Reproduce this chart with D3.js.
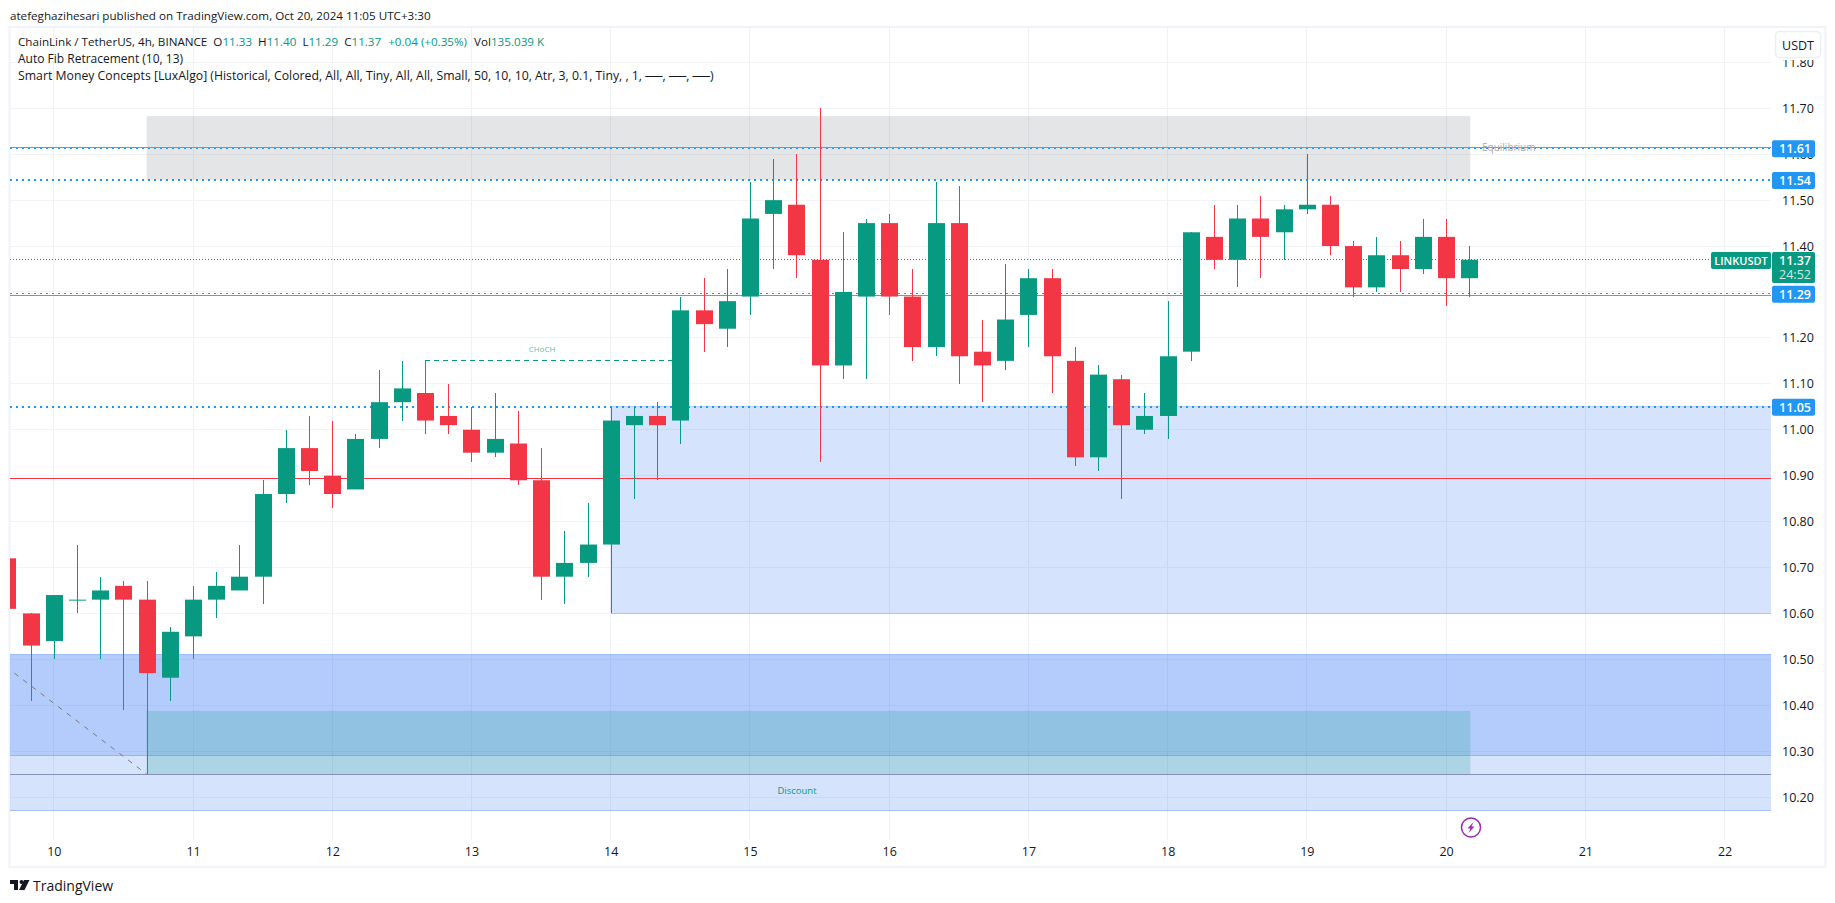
<!DOCTYPE html>
<html>
<head>
<meta charset="utf-8">
<script src="https://cdn.jsdelivr.net/npm/d3@7"></script>
<style>
body{margin:0;background:#fff}
svg{display:block}
text{font-family:"Open Sans",sans-serif}
line{shape-rendering:crispEdges}
</style>
</head>
<body>
<script>
// 4h candles, one entry per bar
var opens=[10.72,10.60,10.54,10.63,10.63,10.66,10.63,10.46,10.55,10.63,10.65,10.68,10.86,10.96,10.90,10.87,10.98,11.06,11.08,11.03,11.00,10.95,10.97,10.89,10.68,10.71,10.75,11.01,11.03,11.02,11.26,11.22,11.29,11.47,11.49,11.37,11.14,11.29,11.45,11.29,11.18,11.45,11.17,11.15,11.25,11.33,11.15,10.94,11.11,11.00,11.03,11.17,11.42,11.37,11.46,11.43,11.48,11.49,11.40,11.31,11.38,11.35,11.42,11.33]
var highs=[10.72,10.60,10.64,10.75,10.68,10.67,10.67,10.57,10.66,10.69,10.75,10.89,11.00,11.03,11.02,10.99,11.13,11.15,11.15,11.10,11.05,11.08,11.04,10.96,10.78,10.84,11.05,11.05,11.06,11.29,11.33,11.35,11.54,11.59,11.60,11.70,11.43,11.46,11.47,11.35,11.54,11.53,11.24,11.36,11.35,11.35,11.18,11.14,11.12,11.08,11.28,11.43,11.49,11.49,11.51,11.49,11.60,11.51,11.41,11.42,11.41,11.46,11.46,11.40]
var lows=[10.61,10.41,10.50,10.60,10.50,10.39,10.25,10.41,10.50,10.59,10.65,10.62,10.84,10.88,10.83,10.87,10.96,11.02,10.99,10.99,10.93,10.94,10.88,10.63,10.62,10.68,10.60,10.85,10.89,10.97,11.17,11.18,11.25,11.35,11.33,10.93,11.11,11.11,11.25,11.15,11.16,11.10,11.06,11.13,11.18,11.08,10.92,10.91,10.85,10.99,10.98,11.15,11.35,11.31,11.33,11.37,11.47,11.38,11.29,11.30,11.30,11.34,11.27,11.29]
var closes=[10.61,10.53,10.64,10.63,10.65,10.63,10.47,10.56,10.63,10.66,10.68,10.86,10.96,10.91,10.86,10.98,11.06,11.09,11.02,11.01,10.95,10.98,10.89,10.68,10.71,10.75,11.02,11.03,11.01,11.26,11.23,11.28,11.46,11.50,11.38,11.14,11.30,11.45,11.29,11.18,11.45,11.16,11.14,11.24,11.33,11.16,10.94,11.12,11.01,11.03,11.16,11.43,11.37,11.46,11.42,11.48,11.49,11.40,11.31,11.38,11.35,11.42,11.33,11.37]

var priceTicks=[11.8,11.7,11.6,11.5,11.4,11.3,11.2,11.1,11.0,10.9,10.8,10.7,10.6,10.5,10.4,10.3,10.2]
var dayLabels=[10,11,12,13,14,15,16,17,18,19,20,21,22]
var dayBars=[2,8,14,20,26,32,38,44,50,56,62,68,74]

// levels and zones, prices plus the bar they start / end at
var dottedLevels=[11.613,11.544,11.296,11.05]
var dottedLabels=["11.61","11.54","11.29","11.05"]
var dottedWidths=[1,2,1,2]
var fibLevels=[11.615,11.293]
var redLevel=10.894
var navyLevel=10.25
var lastPrice=11.37
var zoneTops=[10.51,10.51,11.05]
var zoneBottoms=[10.17,10.29,10.60]
var zoneStarts=[-1,-1,26]

var W=1835,H=903
var plotL=10,plotR=1771,plotT=27,plotB=840

var svg=d3.select("body").append("svg").attr("width",W).attr("height",H)

var x=d3.scaleLinear().domain([0,63]).range([7.4,1469.3])
var y=d3.scaleLinear().domain([11.7,10.2]).range([108.3,797.1])
var green="#089981",red="#f23645",blue="#2196f3",ink="#131722"
var bodyW=17

// frame
svg.append("rect").attr("x",9.5).attr("y",27).attr("width",1816).attr("height",840)
	.attr("fill","none").attr("stroke","#f0f3fa").attr("stroke-width",2)

svg.append("defs").append("clipPath").attr("id","plot").append("rect")
	.attr("x",plotL).attr("y",plotT).attr("width",plotR-plotL).attr("height",plotB-plotT)

// axes + grid
var xAxis=svg.append("g").attr("transform","translate(0,"+plotB+")")
	.call(d3.axisBottom(x).tickValues(dayBars).tickSize(0).tickPadding(7)
		.tickFormat(function(d,i){return dayLabels[i]}))
xAxis.select(".domain").remove()
xAxis.selectAll("text").attr("font-size",12.5).attr("fill",ink).attr("font-family","Open Sans")

var grid=svg.append("g").attr("clip-path","url(#plot)")
grid.selectAll(".v").data(dayBars).enter().append("line")
	.attr("x1",function(d){return x(d)}).attr("x2",function(d){return x(d)})
	.attr("y1",plotT).attr("y2",plotB).attr("stroke","#f0f1f4")
grid.selectAll(".h").data(priceTicks).enter().append("line")
	.attr("x1",plotL).attr("x2",plotR)
	.attr("y1",function(d){return y(d)}).attr("y2",function(d){return y(d)}).attr("stroke","#f2f3f5")

var yAxis=svg.append("g").attr("transform","translate("+plotR+",0)")
	.call(d3.axisRight(y).tickValues(priceTicks).tickSize(0).tickPadding(11)
		.tickFormat(d3.format(".2f")))
yAxis.select(".domain").remove()
yAxis.selectAll("text").attr("font-size",12.5).attr("fill",ink).attr("font-family","Open Sans")

var chart=svg.append("g").attr("clip-path","url(#plot)")

// zones
chart.selectAll(".zone").data(zoneTops).enter().append("rect")
	.attr("x",function(d,i){return x(zoneStarts[i])})
	.attr("width",function(d,i){return plotR-x(zoneStarts[i])})
	.attr("y",function(d){return y(d)})
	.attr("height",function(d,i){return y(zoneBottoms[i])-y(d)})
	.attr("fill","rgba(45,115,245,.2)")
chart.selectAll(".zoneEdge").data(zoneBottoms).enter().append("line")
	.attr("x1",function(d,i){return x(zoneStarts[i])}).attr("x2",plotR)
	.attr("y1",function(d){return y(d)}).attr("y2",function(d){return y(d)})
	.attr("stroke","rgba(45,115,245,.3)")
chart.append("line").attr("x1",plotL).attr("x2",plotR).attr("y1",y(10.51)).attr("y2",y(10.51))
	.attr("stroke","rgba(45,115,245,.4)")
chart.append("line").attr("x1",x(26)).attr("x2",plotR).attr("y1",y(11.05)).attr("y2",y(11.05))
	.attr("stroke","rgba(45,115,245,.3)")

// fib boxes
chart.append("rect").attr("x",x(6)).attr("width",x(63)-x(6)+1)
	.attr("y",y(11.683)).attr("height",y(11.544)-y(11.683)).attr("fill","rgba(120,123,134,.2)")
chart.append("rect").attr("x",x(6)).attr("width",x(63)-x(6)+1)
	.attr("y",y(10.388)).attr("height",y(navyLevel)-y(10.388)).attr("fill","rgba(8,153,129,.2)")

// levels, green fib lines go over the dots
chart.append("line").attr("x1",plotL).attr("x2",plotR).attr("y1",y(redLevel)).attr("y2",y(redLevel))
	.attr("stroke",red)
chart.append("line").attr("x1",plotL).attr("x2",plotR).attr("y1",y(navyLevel)).attr("y2",y(navyLevel))
	.attr("stroke","#8790b6")
chart.selectAll(".dot").data(dottedLevels).enter().append("line")
	.attr("x1",plotL).attr("x2",plotR)
	.attr("y1",function(d){return y(d)}).attr("y2",function(d){return y(d)})
	.attr("stroke",blue).attr("stroke-width",function(d,i){return dottedWidths[i]}).attr("stroke-dasharray","2 4")
chart.selectAll(".fib").data(fibLevels).enter().append("line")
	.attr("x1",plotL).attr("x2",plotR)
	.attr("y1",function(d){return y(d)}).attr("y2",function(d){return y(d)})
	.attr("stroke","#66ad6f")
chart.append("line").attr("x1",plotL).attr("x2",plotR).attr("y1",y(lastPrice)).attr("y2",y(lastPrice))
	.attr("stroke",green).attr("stroke-dasharray","1 2")

// CHoCH break + fib trend line
chart.append("line").attr("x1",x(18)).attr("x2",x(29)).attr("y1",y(11.15)).attr("y2",y(11.15))
	.attr("stroke",green).attr("stroke-dasharray","5 4")
chart.append("line").attr("x1",x(0.3)).attr("x2",x(6)).attr("y1",y(10.47)).attr("y2",y(10.25))
	.attr("stroke","#787b86").attr("stroke-dasharray","5 6").style("shape-rendering","auto")

// candles
function kolor(i){return closes[i]>=opens[i]?green:red}
var bars=chart.selectAll(".bar").data(opens).enter().append("g")
bars.append("line")
	.attr("x1",function(d,i){return Math.round(x(i))+.5}).attr("x2",function(d,i){return Math.round(x(i))+.5})
	.attr("y1",function(d,i){return y(highs[i])}).attr("y2",function(d,i){return y(lows[i])})
	.attr("stroke",function(d,i){return kolor(i)})
bars.append("rect")
	.attr("x",function(d,i){return Math.round(x(i))+.5-bodyW/2}).attr("width",bodyW)
	.attr("y",function(d,i){return y(Math.max(opens[i],closes[i]))})
	.attr("height",function(d,i){return Math.max(1,Math.abs(y(opens[i])-y(closes[i])))})
	.attr("fill",function(d,i){return kolor(i)})

// small labels on the chart
chart.append("text").attr("x",1482).attr("y",151).attr("font-size",10).attr("fill","#a8abb5").text("Equilibrium")
chart.append("text").attr("x",542).attr("y",352).attr("text-anchor","middle").attr("font-size",8).attr("fill","#5fbfa9").text("CHoCH")
chart.append("text").attr("x",797).attr("y",794).attr("text-anchor","middle").attr("font-size",9.5).attr("fill",green).text("Discount")

// price scale tags
function tag(price,label,color){
	var g=svg.append("g")
	g.append("rect").attr("x",1772).attr("y",y(price)-8).attr("width",43).attr("height",17).attr("rx",2).attr("fill",color)
	g.append("text").attr("x",1795).attr("y",y(price)+5).attr("text-anchor","middle")
		.attr("font-size",12.5).attr("font-weight",600).attr("fill","#fff").text(label)
}
dottedLevels.forEach(function(d,i){tag(d,dottedLabels[i],blue)})
svg.append("rect").attr("x",1772).attr("y",252).attr("width",43).attr("height",31).attr("rx",2).attr("fill",green)
svg.append("text").attr("x",1795).attr("y",265).attr("text-anchor","middle").attr("font-size",12.5).attr("font-weight",600).attr("fill","#fff").text("11.37")
svg.append("text").attr("x",1795).attr("y",279).attr("text-anchor","middle").attr("font-size",12.5).attr("fill","#cfeae4").text("24:52")
svg.append("rect").attr("x",1711).attr("y",252).attr("width",60).attr("height",17).attr("rx",2).attr("fill",green)
svg.append("text").attr("x",1741).attr("y",265).attr("text-anchor","middle").attr("font-size",11).attr("font-weight",600).attr("fill","#fff").text("LINKUSDT")

// USDT button sits over the top tick
svg.append("rect").attr("x",1772).attr("y",28).attr("width",52).attr("height",32).attr("fill","#fff")
svg.append("rect").attr("x",1775.5).attr("y",31.5).attr("width",45).attr("height",26).attr("rx",4)
	.attr("fill","#fff").attr("stroke","#eceef3").attr("stroke-width",1.5)
svg.append("text").attr("x",1798).attr("y",50).attr("text-anchor","middle").attr("font-size",12.5).attr("fill",ink).text("USDT")

// header + legend
svg.append("text").attr("x",10).attr("y",20).attr("font-size",11.65).attr("fill",ink)
	.text("atefeghazihesari published on TradingView.com, Oct 20, 2024 11:05 UTC+3:30")
var l1=svg.append("text").attr("x",18).attr("y",46).attr("font-size",11.65).attr("fill",ink)
l1.append("tspan").text("ChainLink / TetherUS, 4h, BINANCE")
var ohlc=[["O","11.33"],["H","11.40"],["L","11.29"],["C","11.37"]]
ohlc.forEach(function(d,i){
	l1.append("tspan").attr("dx",6).text(d[0])
	l1.append("tspan").attr("fill",green).text(d[1])
})
l1.append("tspan").attr("dx",7).attr("fill",green).text("+0.04 (+0.35%)")
l1.append("tspan").attr("dx",7).text("Vol")
l1.append("tspan").attr("fill",green).text("135.039 K")
svg.append("text").attr("x",18).attr("y",63).attr("font-size",12).attr("fill",ink).text("Auto Fib Retracement (10, 13)")
svg.append("text").attr("x",18).attr("y",80).attr("font-size",12.27).attr("fill",ink)
	.text("Smart Money Concepts [LuxAlgo] (Historical, Colored, All, All, Tiny, All, All, Small, 50, 10, 10, Atr, 3, 0.1, Tiny, , 1, ──, ──, ──)")

// lightning marker
var bolt=svg.append("g").attr("transform","translate(1471,827.5)")
bolt.append("circle").attr("r",9.5).attr("fill","#fff").attr("stroke","#9c27b0").attr("stroke-width",1.5)
bolt.append("path").attr("d","M2.5,-5.5 L-3.5,1 L-0.5,1 L-2.5,5.5 L3.5,-1 L0.5,-1 Z").attr("fill","#9c27b0")

// logo
var logo=svg.append("g").attr("transform","translate(10,880)").attr("fill",ink)
logo.append("path").attr("d","M0,0 H8 V10 H4 V4 H0 Z")
logo.append("circle").attr("cx",11.5).attr("cy",2).attr("r",2)
logo.append("path").attr("d","M14,0 H19.5 L14.5,10 H9 Z")
svg.append("text").attr("x",33).attr("y",891).attr("font-size",14).attr("fill",ink).text("TradingView")
</script>
</body>
</html>
